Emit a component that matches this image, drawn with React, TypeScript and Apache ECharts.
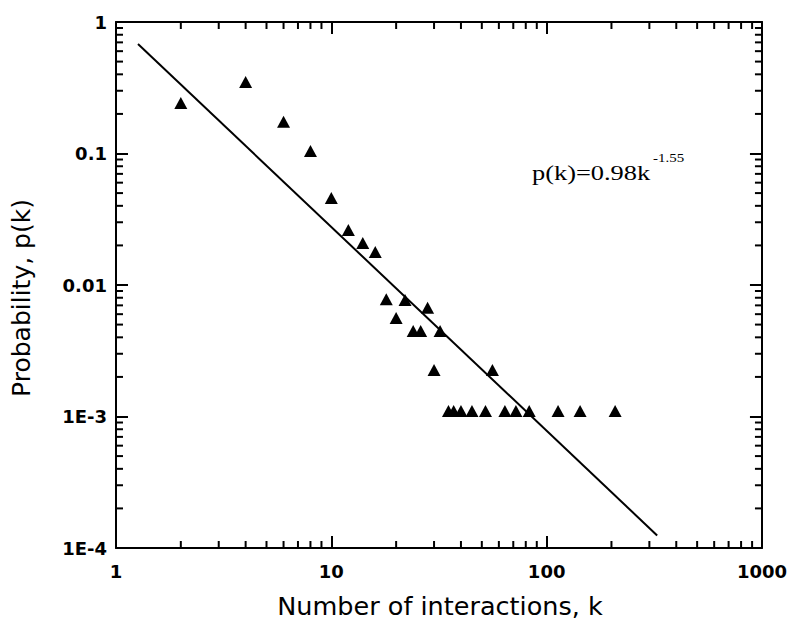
import React, { useEffect, useRef } from 'react';
import * as echarts from 'echarts';

// Degree k of each protein class and the measured probability p(k)
const kValues = [2, 4, 6, 8, 10, 12, 14, 16, 18, 20, 22, 24, 26, 28, 30, 32, 56,
  35, 37, 40, 45, 52, 64, 72, 83, 113, 143, 208];
const pValues = [0.242, 0.35, 0.174, 0.1045, 0.0459, 0.0262, 0.0209, 0.0178, 0.0078, 0.0056,
  0.0077, 0.00447, 0.00447, 0.0067, 0.00226, 0.00447, 0.00226,
  0.0011, 0.0011, 0.0011, 0.0011, 0.0011, 0.0011, 0.0011, 0.0011, 0.0011, 0.0011, 0.0011];

// Power-law fit p(k) = 0.98 k^-1.55 drawn between these k values
const fitCoef = 0.98;
const fitExp = -1.55;
const fitKRange = [1.265, 326];

const xTickLabels = ['1', '10', '100', '1000'];
const yTickLabels = ['1E-4', '1E-3', '0.01', '0.1', '1'];

const X_MIN = 1, X_MAX = 1000, Y_MIN = 1e-4, Y_MAX = 1;

const xMinor: number[] = [];
for (let d = 1; d < X_MAX; d *= 10) for (let m = 2; m <= 9; m++) xMinor.push(d * m);
const yMinor: number[] = [];
for (let d = Y_MIN; d < Y_MAX * 0.99; d *= 10) for (let m = 2; m <= 9; m++) yMinor.push(d * m);

const MINOR = 7;
const MAJOR = 12;
const BLACK = '#000';

export default function App() {
  const ref = useRef<HTMLDivElement>(null);
  useEffect(() => {
    if (!ref.current) return;
    const chart = echarts.init(ref.current, null, { renderer: 'svg' });
    const labelStyle = {
      fontFamily: 'DejaVu Sans', fontWeight: 'bold' as const, fontSize: 18, color: BLACK,
    };
    const axisCommon = {
      type: 'log' as const, logBase: 10,
      axisLine: { show: true, lineStyle: { color: BLACK, width: 2 } },
      axisTick: { show: true, inside: true, length: MAJOR, lineStyle: { color: BLACK, width: 2 } },
      splitLine: { show: false },
      minorTick: { show: false },
    };
    const fitData = fitKRange.map((k) => [k, fitCoef * Math.pow(k, fitExp)]);
    chart.setOption({
      animation: false,
      backgroundColor: '#fff',
      grid: { left: 116, top: 22, right: 27, bottom: 79 },
      xAxis: [
        {
          ...axisCommon, position: 'bottom', min: X_MIN, max: X_MAX,
          axisLabel: {
            ...labelStyle, margin: 14,
            formatter: (v: number) => xTickLabels[Math.round(Math.log10(v))],
          },
        },
        { ...axisCommon, position: 'top', min: X_MIN, max: X_MAX, axisLabel: { show: false } },
      ],
      yAxis: [
        {
          ...axisCommon, position: 'left', min: Y_MIN, max: Y_MAX,
          axisLabel: {
            ...labelStyle, margin: 9,
            formatter: (v: number) => yTickLabels[Math.round(Math.log10(v)) + 4],
          },
        },
        { ...axisCommon, position: 'right', min: Y_MIN, max: Y_MAX, axisLabel: { show: false } },
      ],
      graphic: [
        {
          type: 'text', x: 440, y: 606,
          style: {
            text: 'Number of interactions, k', fontFamily: 'DejaVu Sans', fontSize: 25.5,
            fill: BLACK, align: 'center', verticalAlign: 'middle',
          },
        },
        {
          type: 'text', x: 21, y: 298, rotation: Math.PI / 2,
          style: {
            text: 'Probability, p(k)', fontFamily: 'DejaVu Sans', fontSize: 25,
            fill: BLACK, align: 'center', verticalAlign: 'middle',
          },
        },
        {
          type: 'text', x: 532, y: 172.5, scaleX: 1.2,
          style: {
            text: 'p(k)=0.98k', fontFamily: 'Liberation Serif', fontSize: 22,
            fill: BLACK, align: 'left', verticalAlign: 'middle',
          },
        },
        {
          type: 'text', x: 653, y: 158, scaleX: 1.15,
          style: {
            text: '-1.55', fontFamily: 'Liberation Serif', fontSize: 13,
            fill: BLACK, align: 'left', verticalAlign: 'middle',
          },
        },
      ],
      series: [
        {
          type: 'custom', name: 'xMinorTicks', silent: true, clip: false,
          xAxisIndex: 0, yAxisIndex: 0,
          data: xMinor.map((v) => [v, Y_MIN]),
          renderItem: (_p: any, api: any) => {
            const v = api.value(0);
            const b = api.coord([v, Y_MIN]);
            const t = api.coord([v, Y_MAX]);
            const st = { stroke: BLACK, lineWidth: 2 };
            return {
              type: 'group', children: [
                { type: 'line', shape: { x1: b[0], y1: b[1], x2: b[0], y2: b[1] - MINOR }, style: st },
                { type: 'line', shape: { x1: t[0], y1: t[1], x2: t[0], y2: t[1] + MINOR }, style: st },
              ],
            };
          },
        },
        {
          type: 'custom', name: 'yMinorTicks', silent: true, clip: false,
          xAxisIndex: 0, yAxisIndex: 0,
          data: yMinor.map((v) => [X_MIN, v]),
          renderItem: (_p: any, api: any) => {
            const v = api.value(1);
            const l = api.coord([X_MIN, v]);
            const r = api.coord([X_MAX, v]);
            const st = { stroke: BLACK, lineWidth: 2 };
            return {
              type: 'group', children: [
                { type: 'line', shape: { x1: l[0], y1: l[1], x2: l[0] + MINOR, y2: l[1] }, style: st },
                { type: 'line', shape: { x1: r[0], y1: r[1], x2: r[0] - MINOR, y2: r[1] }, style: st },
              ],
            };
          },
        },
        {
          type: 'line', name: 'fit', data: fitData, showSymbol: false, symbol: 'none',
          lineStyle: { color: BLACK, width: 2 }, silent: true,
        },
        {
          type: 'scatter', name: 'data', data: kValues.map((k, i) => [k, pValues[i]]),
          symbol: 'triangle', symbolSize: [13, 12],
          itemStyle: { color: BLACK, opacity: 1 },
        },
      ],
    });
    return () => chart.dispose();
  }, []);
  return (
    <div
      ref={ref}
      style={{ position: 'fixed', left: 0, top: 0, width: 790, height: 627, background: '#fff' }}
    />
  );
}
